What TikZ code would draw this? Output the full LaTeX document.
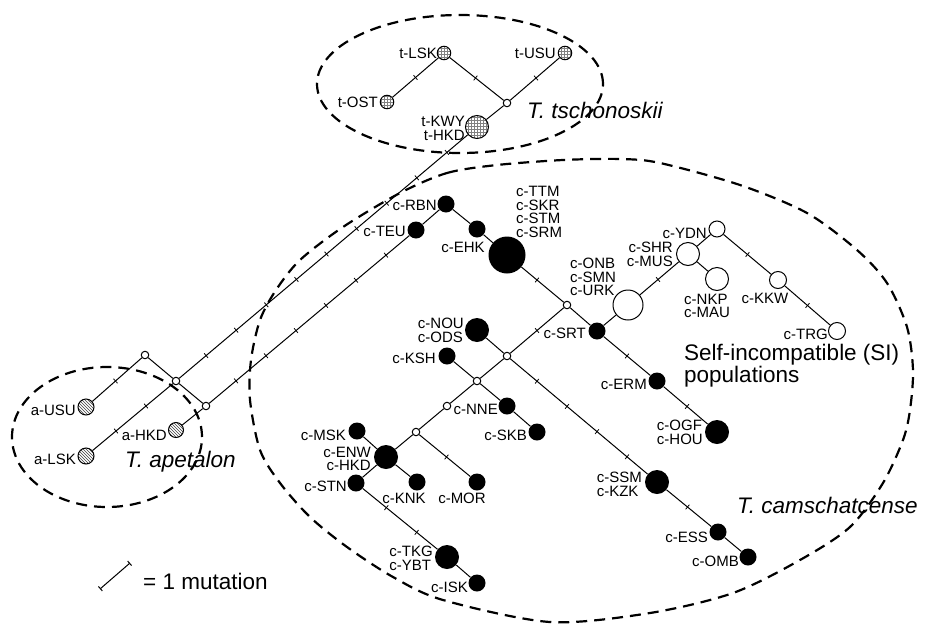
\documentclass[tikz,border=0pt]{standalone}
\usepackage{fontspec}
\setmainfont{Liberation Sans}
\usetikzlibrary{patterns,arrows.meta}
\newcommand\mtick[3]{\foreach \k in {1,...,#3}{\pgfmathsetmacro\pp{\k/(#3+1)}\path (#1.center) -- (#2.center) node[tickmark, pos=\pp]{};}}
\begin{document}
\begin{tikzpicture}[x=1pt,y=-1pt,
  lbl/.style={font=\fontsize{15}{13.8}\selectfont, inner sep=0pt},
  bigl/.style={font=\fontsize{22.5}{22}\selectfont\itshape, inner sep=0pt},
  sil/.style={font=\fontsize{22.5}{22}\selectfont, inner sep=0pt, align=left},
  edge/.style={line width=1pt},
  tickmark/.style={draw, line width=0.8pt, inner sep=0pt, minimum width=0pt, minimum height=6pt, sloped},
  blk/.style={circle, fill=black, inner sep=0pt, minimum size=#1},
  opn/.style={circle, draw, line width=1pt, fill=white, inner sep=0pt, minimum size=#1},
  med/.style={circle, draw, line width=1pt, fill=white, inner sep=0pt, minimum size=7.5pt},
  tsc/.style={circle, draw, line width=1pt, preaction={fill=white}, pattern=grid, pattern color=black!50, inner sep=0pt, minimum size=#1},
  ape/.style={circle, draw, line width=1pt, preaction={fill=white}, pattern=north west lines, pattern color=black!75, inner sep=0pt, minimum size=#1},
  grp/.style={line width=2.2pt, dash pattern=on 11pt off 7pt}]
\useasboundingbox (0,0) rectangle (935,627);
% group outlines
\draw[grp] (460,84) ellipse [x radius=143pt, y radius=69pt];
\draw[grp] (107,437) ellipse [x radius=95pt, y radius=70pt];
\draw[grp] plot[smooth cycle] coordinates {(400,193) (447,173) (497,165) (563,160) (620,159) (660,163) (740,185) (807,213) (857,250) (887,283) (907,327) (913,370) (910,410) (903,440) (883,483) (850,527) (800,560) (733,593) (650,613) (550,622) (443,600) (393,577) (347,547) (310,517) (280,483) (260,450) (250,400) (251,360) (260,320) (276,290) (300,260) (343,227)};
% tschonoskii
\node[tsc=13.5pt] (tLSK) at (444,53) {};
\node[tsc=13.5pt] (tUSU) at (565,53) {};
\node[tsc=13.5pt] (tOST) at (387,102) {};
\node[med] (tJ) at (507,103) {};
\node[tsc=23pt] (tKWY) at (477,127) {};
% apetalon
\node[med] (aJ1) at (145,355) {};
\node[med] (aJ2) at (176,381) {};
\node[med] (aJ3) at (206,406) {};
\node[ape=16pt] (aUSU) at (86,407) {};
\node[ape=16pt] (aLSK) at (86,456) {};
\node[ape=15pt] (aHKD) at (176,430) {};
% camschatcense
\node[blk=17pt] (cTEU) at (416,230) {};
\node[blk=17pt] (cRBN) at (446,204) {};
\node[blk=17pt] (cEHK) at (477,229) {};
\node[blk=37pt] (cTTM) at (507,255) {};
\node[med] (cJ1) at (567,305) {};
\node[blk=17pt] (cSRT) at (597,331) {};
\node[opn=30pt] (cONB) at (628,305) {};
\node[opn=23pt] (cSHR) at (688,254) {};
\node[opn=16pt] (cYDN) at (717,229) {};
\node[opn=23pt] (cNKP) at (717,279) {};
\node[opn=17pt] (cKKW) at (778,280) {};
\node[opn=17pt] (cTRG) at (837,331) {};
\node[blk=17pt] (cERM) at (657,381) {};
\node[blk=24pt] (cOGF) at (717,432) {};
\node[med] (cJ2) at (507,356) {};
\node[blk=24pt] (cNOU) at (477,330) {};
\node[med] (cJ3) at (477,381) {};
\node[blk=24pt] (cSSM) at (657,482) {};
\node[blk=17pt] (cESS) at (718,532) {};
\node[blk=17pt] (cOMB) at (748,557) {};
\node[blk=17pt] (cKSH) at (447,356) {};
\node[blk=17pt] (cNNE) at (507,406) {};
\node[blk=17pt] (cSKB) at (537,432) {};
\node[med] (cJ4) at (447,406) {};
\node[med] (cJ5) at (416,432) {};
\node[blk=17pt] (cMOR) at (477,482) {};
\node[blk=24pt] (cENW) at (386,457) {};
\node[blk=17pt] (cMSK) at (357,431) {};
\node[blk=17pt] (cKNK) at (417,482) {};
\node[blk=17pt] (cSTN) at (356,483) {};
\node[blk=24pt] (cTKG) at (447,557) {};
\node[blk=17pt] (cISK) at (477,583) {};
% edges
\draw[edge] (tLSK) -- (tOST); \mtick{tLSK}{tOST}{1}
\draw[edge] (tLSK) -- (tJ); \mtick{tLSK}{tJ}{1}
\draw[edge] (tJ) -- (tUSU); \mtick{tJ}{tUSU}{1}
\draw[edge] (tJ) -- (tKWY);
\draw[edge] (aJ1) -- (aUSU); \mtick{aUSU}{aJ1}{1}
\draw[edge] (aJ1) -- (aJ2);
\draw[edge] (aJ2) -- (aJ3);
\draw[edge] (aJ2) -- (aLSK); \mtick{aLSK}{aJ2}{2}
\draw[edge] (aJ2) -- (tKWY); \mtick{aJ2}{tKWY}{9}
\draw[edge] (aJ3) -- (aHKD);
\draw[edge] (aJ3) -- (cTEU); \mtick{aJ3}{cTEU}{6}
\draw[edge] (cTEU) -- (cRBN);
\draw[edge] (cRBN) -- (cEHK);
\draw[edge] (cEHK) -- (cTTM);
\draw[edge] (cTTM) -- (cJ1); \mtick{cTTM}{cJ1}{1}
\draw[edge] (cJ1) -- (cSRT);
\draw[edge] (cJ1) -- (cJ2); \mtick{cJ1}{cJ2}{1}
\draw[edge] (cSRT) -- (cONB);
\draw[edge] (cONB) -- (cSHR); \mtick{cONB}{cSHR}{1}
\draw[edge] (cSHR) -- (cYDN);
\draw[edge] (cSHR) -- (cNKP);
\draw[edge] (cYDN) -- (cKKW); \mtick{cYDN}{cKKW}{1}
\draw[edge] (cKKW) -- (cTRG); \mtick{cKKW}{cTRG}{1}
\draw[edge] (cSRT) -- (cERM); \mtick{cSRT}{cERM}{1}
\draw[edge] (cERM) -- (cOGF); \mtick{cERM}{cOGF}{1}
\draw[edge] (cJ2) -- (cNOU);
\draw[edge] (cJ2) -- (cJ3);
\draw[edge] (cJ2) -- (cSSM); \mtick{cJ2}{cSSM}{4}
\draw[edge] (cSSM) -- (cESS); \mtick{cSSM}{cESS}{1}
\draw[edge] (cESS) -- (cOMB);
\draw[edge] (cJ3) -- (cKSH);
\draw[edge] (cJ3) -- (cNNE);
\draw[edge] (cNNE) -- (cSKB);
\draw[edge] (cJ3) -- (cJ4);
\draw[edge] (cJ4) -- (cJ5);
\draw[edge] (cJ5) -- (cMOR); \mtick{cJ5}{cMOR}{1}
\draw[edge] (cJ5) -- (cENW);
\draw[edge] (cENW) -- (cMSK);
\draw[edge] (cENW) -- (cKNK);
\draw[edge] (cENW) -- (cSTN);
\draw[edge] (cSTN) -- (cTKG); \mtick{cSTN}{cTKG}{2}
\draw[edge] (cTKG) -- (cISK);
% labels
\node[lbl, anchor=east] (ltLSK) at (437,53) {t-LSK};
\node[lbl, anchor=east] (ltUSU) at (556,53) {t-USU};
\node[lbl, anchor=east] (ltOST) at (378,102) {t-OST};
\node[lbl, anchor=east, align=right] (ltKWY) at (465,128) {t-KWY\\t-HKD};
\node[bigl, anchor=west] (lts) at (527,110) {T. tschonoskii};
\node[lbl, anchor=east] (laUSU) at (76,410) {a-USU};
\node[lbl, anchor=east] (laLSK) at (76,459) {a-LSK};
\node[lbl, anchor=east] (laHKD) at (167,435) {a-HKD};
\node[bigl, anchor=west] (lap) at (125,462) {T. apetalon};
\node[lbl, anchor=east] (lcRBN) at (437,205) {c-RBN};
\node[lbl, anchor=east] (lcTEU) at (406,231) {c-TEU};
\node[lbl] (lcEHK) at (463,247) {c-EHK};
\node[lbl, anchor=west, align=left] (lcTTM) at (516,212) {c-TTM\\c-SKR\\c-STM\\c-SRM};
\node[lbl, anchor=west, align=left] (lcONB) at (570,277) {c-ONB\\c-SMN\\c-URK};
\node[lbl, anchor=east] (lcSRT) at (586,333) {c-SRT};
\node[lbl, anchor=east] (lcYDN) at (707,233) {c-YDN};
\node[lbl, anchor=east, align=right] (lcSHR) at (673,254) {c-SHR\\c-MUS};
\node[lbl, anchor=west, align=left] (lcNKP) at (684,306) {c-NKP\\c-MAU};
\node[lbl] (lcKKW) at (765,298) {c-KKW};
\node[lbl, anchor=east] (lcTRG) at (828,334) {c-TRG};
\node[sil, anchor=west] (lsi) at (684,366) {Self-incompatible (SI)\\populations};
\node[lbl, anchor=east] (lcERM) at (647,384) {c-ERM};
\node[lbl, anchor=east, align=left] (lcOGF) at (703,432) {c-OGF\\c-HOU};
\node[lbl, anchor=east, align=left] (lcNOU) at (464,330) {c-NOU\\c-ODS};
\node[lbl, anchor=east] (lcKSH) at (436,358) {c-KSH};
\node[lbl, anchor=east] (lcNNE) at (498,409) {c-NNE};
\node[lbl, anchor=east] (lcSKB) at (527,435) {c-SKB};
\node[lbl, anchor=east, align=left] (lcSSM) at (642,484) {c-SSM\\c-KZK};
\node[lbl, anchor=east] (lcESS) at (708,537) {c-ESS};
\node[lbl, anchor=east] (lcOMB) at (739,561) {c-OMB};
\node[bigl, anchor=west] (lcam) at (737,505) {T. camschatcense};
\node[lbl, anchor=east] (lcMSK) at (346,435) {c-MSK};
\node[lbl, anchor=east, align=right] (lcENW) at (371,459) {c-ENW\\c-HKD};
\node[lbl, anchor=east] (lcSTN) at (347,486) {c-STN};
\node[lbl] (lcKNK) at (404,498) {c-KNK};
\node[lbl] (lcMOR) at (462,498) {c-MOR};
\node[lbl, anchor=east, align=left] (lcTKG) at (433,558) {c-TKG\\c-YBT};
\node[lbl, anchor=east] (lcISK) at (468,587) {c-ISK};
% legend
\coordinate (L1) at (100,589);
\coordinate (L2) at (130,563);
\draw[line width=1pt, {Bar[width=6pt]}-{Bar[width=6pt]}] (L1) -- (L2);
\node[sil, anchor=west] (lleg) at (143,581) {= 1 mutation};
\end{tikzpicture}
\end{document}
